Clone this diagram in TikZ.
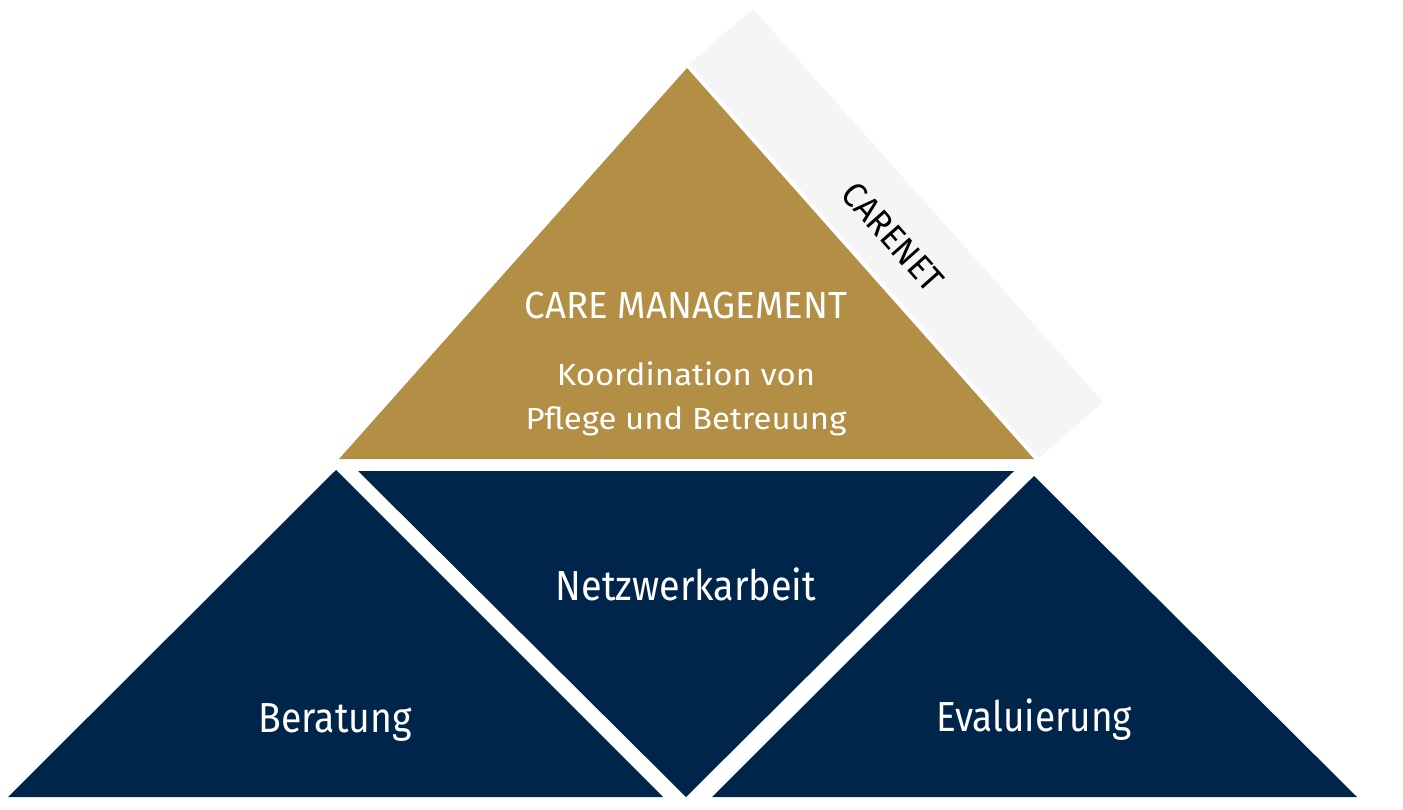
\documentclass[tikz,border=0pt]{standalone}
\usepackage{fontspec}
\setmainfont{Fira Sans}
\definecolor{gold}{RGB}{178,143,68}
\definecolor{navy}{RGB}{0,37,74}
\definecolor{band}{RGB}{245,245,245}
\tikzset{
  lbl/.style={text=white,inner sep=0pt,anchor=base},
  big/.style={font=\fontsize{42}{46}\selectfont},
  mid/.style={font=\fontsize{30.5}{44}\selectfont},
}
\begin{document}
\begin{tikzpicture}[x=1pt,y=-1pt]
\useasboundingbox (0,0) rectangle (1403,810);
% gray band
\fill[band] (689,64) -- (753,9) -- (1103,402) -- (1039,458) -- cycle;
% gold triangle
\fill[gold] (687,68) -- (1034,459) -- (339,459) -- cycle;
% navy shapes
\fill[navy] (336,470) -- (663,797) -- (8,797) -- cycle;
\fill[navy] (358,471) -- (1014,471) -- (686,797) -- cycle;
\fill[navy] (1034,476) -- (1357,797) -- (712,797) -- cycle;
% texts
\node[lbl,font=\fontsize{37.7}{44}\selectfont] (cm) at (686,319) {\scalebox{0.97}[1]{CARE MANAGEMENT}};
\node[lbl,mid] (ko) at (686,385) {\scalebox{1.08}[1]{Koordination von}};
\node[lbl,mid] (pf) at (686,429) {\scalebox{1.08}[1]{Pflege und Betreuung}};
\node[lbl,big] (nw) at (686,600) {\scalebox{0.90}[1]{Netzwerkarbeit}};
\node[lbl,big] (be) at (335,732) {\scalebox{0.89}[1]{Beratung}};
\node[lbl,big] (ev) at (1034,731) {\scalebox{0.88}[1]{Evaluierung}};
\node[inner sep=0pt,text=black,font=\fontsize{35}{38}\selectfont,rotate=-48.4] (cn) at (893,237) {\scalebox{0.95}[1]{CARENET}};
\end{tikzpicture}
\end{document}
